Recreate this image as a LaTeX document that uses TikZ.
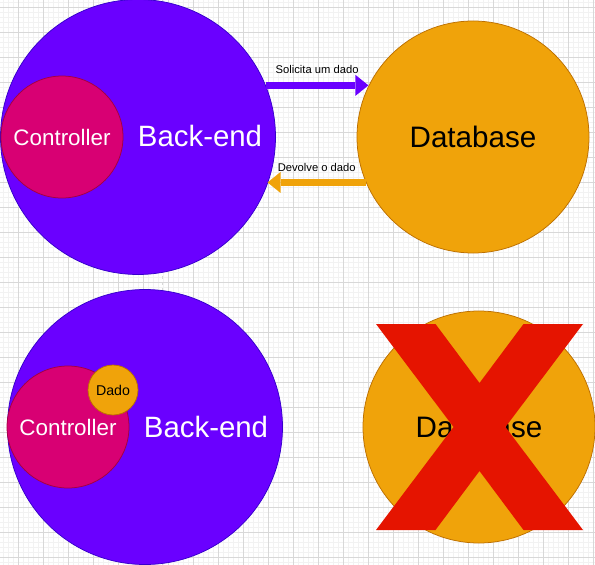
\documentclass[tikz,border=0pt]{standalone}
\usepackage{fontspec}
\setmainfont{Liberation Sans}
\usetikzlibrary{arrows.meta}

\definecolor{violetfill}{HTML}{6A00FF}
\definecolor{violetline}{HTML}{3700CC}
\definecolor{magentafill}{HTML}{D80073}
\definecolor{magentaline}{HTML}{A50040}
\definecolor{amberfill}{HTML}{F0A30A}
\definecolor{amberline}{HTML}{BD7000}
\definecolor{redmark}{HTML}{E51400}
\definecolor{gridmajor}{HTML}{D8D8D8}
\definecolor{gridminor}{HTML}{F2F2F2}

\begin{document}
\begin{tikzpicture}[x=1pt, y=-1pt,
	blob/.style={circle, inner sep=0pt, line width=0.75pt},
	backend/.style={blob, draw=violetline, fill=violetfill, minimum size=275pt},
	controller/.style={blob, draw=magentaline, fill=magentafill, minimum size=122pt,
		text=white, font=\fontsize{22.4}{24}\selectfont},
	database/.style={blob, draw=amberline, fill=amberfill, minimum size=232pt,
		font=\fontsize{29.6}{31}\selectfont},
	dadobox/.style={blob, draw=amberline, fill=amberfill, minimum size=50pt,
		font=\fontsize{14.2}{15}\selectfont},
	bigtext/.style={text=white, font=\fontsize{29.4}{31}\selectfont},
	fatarrow/.style={line width=7pt, -{Triangle[length=13pt 0 0, width=21pt 0 0, line width=0pt]}},
	msg/.style={text=black, font=\fontsize{11.2}{12}\selectfont, midway, above=4.5pt},
	xmark/.style={fill=redmark}]

	\useasboundingbox (0,0) rectangle (595,565);

	% Grid
	\foreach \x in {3,8,...,593} \draw[gridminor, line width=0.8pt] (\x,0) -- (\x,565);
	\foreach \y in {2,7,...,562} \draw[gridminor, line width=0.8pt] (0,\y) -- (595,\y);
	\foreach \x in {18,43,...,593} \draw[gridmajor, line width=0.8pt] (\x,0) -- (\x,565);
	\foreach \y in {7,32,...,557} \draw[gridmajor, line width=0.8pt] (0,\y) -- (595,\y);
	\draw[gridmajor, dashed, line width=0.8pt] (162,0) -- (162,565);

	% Top: request and answer
	\node[backend] (back1) at (138,137) {};
	\node[controller] (ctrl1) at (62,137) {Controller};
	\node[bigtext] (backtext1) at (200,136) {Back-end};
	\node[database] (db1) at (473,137) {Database};

	\draw[fatarrow, violetfill] (back1.22) -- (db1.154 |- back1.22) node[msg] {Solicita um dado};
	\draw[fatarrow, amberfill] (db1.203) -- (back1.-20 |- db1.203) node[msg] {Devolve o dado};

	% Bottom: data in the controller
	\node[backend] (back2) at (145,427) {};
	\node[controller] (ctrl2) at (68,427) {Controller};
	\node[dadobox] (dado) at (113,390) {Dado};
	\node[bigtext] (backtext2) at (206,427) {Back-end};
	\node[database] (db2) at (479,427) {Database};

	% Cross over the database
	\fill[xmark] (376,324) -- (435.5,324) -- (479.5,383) -- (523.5,324) -- (583,324)
		-- (505.5,427) -- (583,530) -- (523.5,530) -- (479.5,471) -- (435.5,530)
		-- (376,530) -- (453.5,427) -- cycle;

\end{tikzpicture}
\end{document}
